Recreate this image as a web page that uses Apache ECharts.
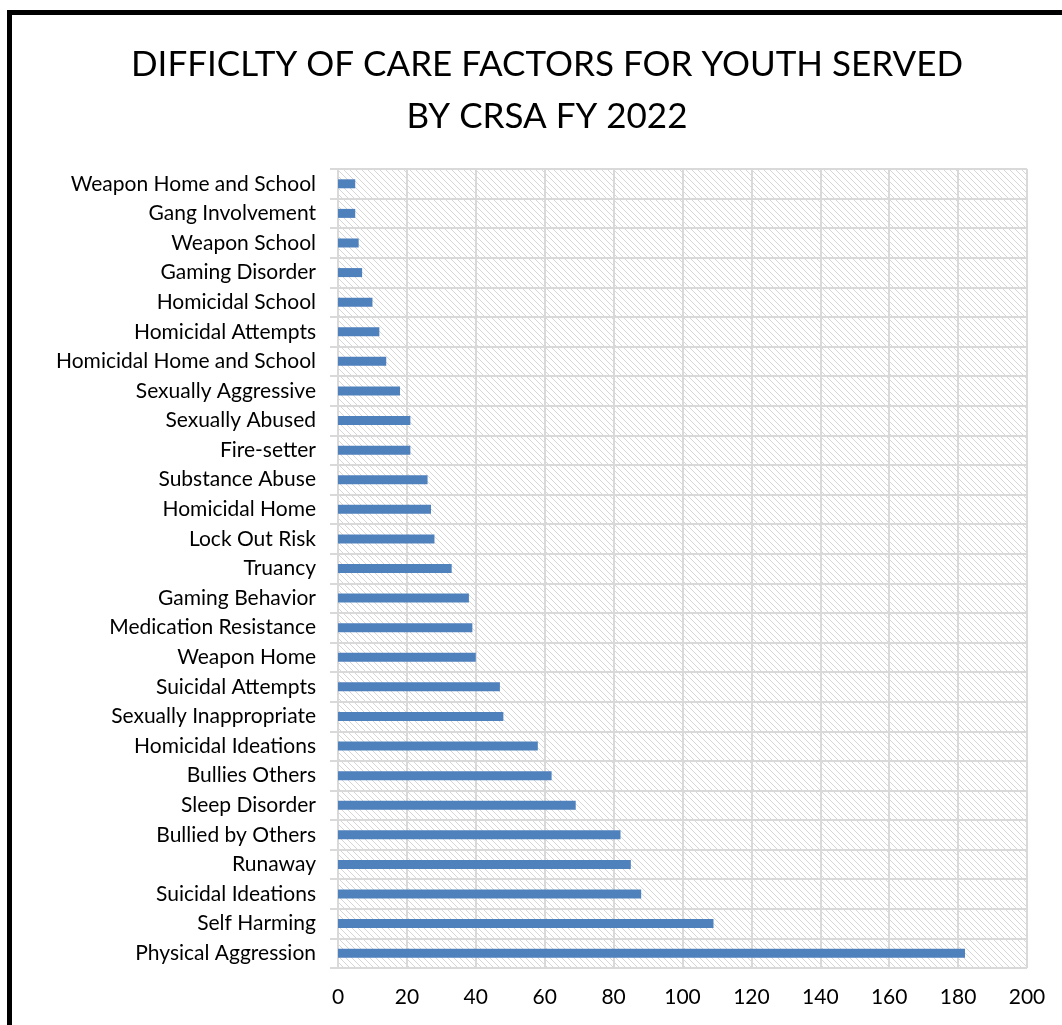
<!DOCTYPE html>
<html>
<head>
<meta charset="utf-8">
<script src="https://cdn.jsdelivr.net/npm/echarts@6/dist/echarts.min.js"></script>
<style>
  html, body { margin: 0; padding: 0; background: #fff; }
  #chart { width: 1062px; height: 1025px; }
</style>
</head>
<body>
<div id="chart"></div>
<script>
// Difficulty-of-care factors, listed top to bottom
const categories = [
  'Weapon Home and School', 'Gang Involvement', 'Weapon School', 'Gaming Disorder',
  'Homicidal School', 'Homicidal Attempts', 'Homicidal Home and School',
  'Sexually Aggressive', 'Sexually Abused', 'Fire-setter', 'Substance Abuse',
  'Homicidal Home', 'Lock Out Risk', 'Truancy', 'Gaming Behavior',
  'Medication Resistance', 'Weapon Home', 'Suicidal Attempts',
  'Sexually Inappropriate', 'Homicidal Ideations', 'Bullies Others',
  'Sleep Disorder', 'Bullied by Others', 'Runaway', 'Suicidal Ideations',
  'Self Harming', 'Physical Aggression'
];
const youthCounts = [
  5, 5, 6, 7, 10, 12, 14, 18, 21, 21, 26, 27, 28, 33, 38, 39, 40, 47, 48,
  58, 62, 69, 82, 85, 88, 109, 182
];
const valueTicks = { min: 0, max: 200, interval: 20 };

// Light diagonal hatch for the plot background
function makeHatch() {
  const c = document.createElement('canvas');
  const s = 6;
  c.width = s; c.height = s;
  const g = c.getContext('2d');
  g.fillStyle = '#ffffff';
  g.fillRect(0, 0, s, s);
  g.strokeStyle = '#d6d6d6';
  g.lineWidth = 1;
  g.beginPath();
  g.moveTo(-1, -1); g.lineTo(s + 1, s + 1);
  g.moveTo(-1, s - 1); g.lineTo(1, s + 1);
  g.moveTo(s - 1, -1); g.lineTo(s + 1, 1);
  g.stroke();
  return { image: c, repeat: 'repeat' };
}

const font = 'Lato, "Noto Sans", sans-serif';
const chart = echarts.init(document.getElementById('chart'), null, { renderer: 'canvas' });

chart.setOption({
  animation: false,
  backgroundColor: '#ffffff',
  title: {
    text: 'DIFFICLTY OF CARE FACTORS FOR YOUTH SERVED\nBY CRSA FY 2022',
    left: 542,
    top: 34,
    textAlign: 'center',
    textStyle: {
      fontFamily: font,
      fontWeight: 'normal',
      fontSize: 35,
      lineHeight: 52,
      color: '#000000'
    }
  },
  graphic: [{
    type: 'rect',
    silent: true,
    z: 100,
    shape: { x: 9.5, y: 12.5, width: 1200, height: 1200 },
    style: { fill: 'none', stroke: '#000000', lineWidth: 5 }
  }],
  grid: {
    left: 338, right: 35, top: 169, bottom: 57,
    show: true,
    backgroundColor: makeHatch(),
    borderWidth: 0
  },
  xAxis: {
    type: 'value',
    min: valueTicks.min,
    max: valueTicks.max,
    interval: valueTicks.interval,
    axisLine: { show: false },
    axisTick: { show: false },
    axisLabel: { fontFamily: font, fontSize: 21, color: '#000', margin: 19 },
    splitLine: { show: true, lineStyle: { color: '#d9d9d9', width: 2 } }
  },
  yAxis: {
    type: 'category',
    inverse: true,
    data: categories,
    axisLine: { show: true, lineStyle: { color: '#d9d9d9', width: 2 } },
    axisTick: { show: true, length: 8, lineStyle: { color: '#d9d9d9', width: 2 } },
    axisLabel: { fontFamily: font, fontSize: 21, color: '#000', margin: 22 },
    splitLine: { show: true, lineStyle: { color: '#d9d9d9', width: 2 } }
  },
  series: [{
    type: 'bar',
    data: youthCounts,
    barWidth: 9,
    itemStyle: { color: '#4f81bd' }
  }]
});
</script>
</body>
</html>
